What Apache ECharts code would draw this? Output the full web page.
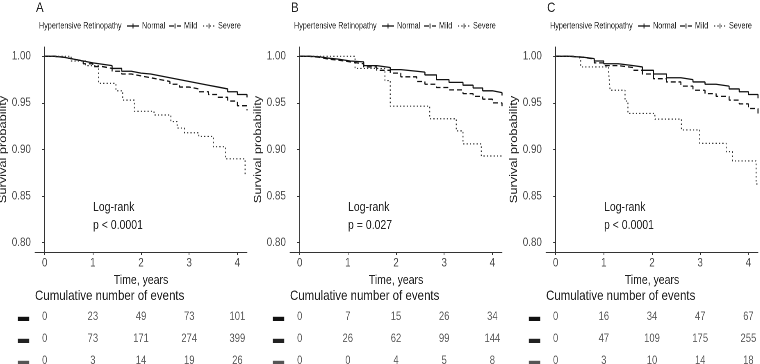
<!DOCTYPE html>
<html>
<head>
<meta charset="utf-8">
<script src="https://cdn.jsdelivr.net/npm/echarts@6/dist/echarts.min.js"></script>
<style>
    html, body { margin: 0; padding: 0; background: #fff; }
    #wrap { width: 760px; height: 364px; overflow: hidden; }
    /* the source figure is squeezed horizontally, so draw wide and squeeze */
    #main { width: 927px; height: 364px; transform: scaleX(0.82); transform-origin: 0 0; }
</style>
</head>
<body>
<div id="wrap"><div id="main"></div></div>
<script>
    // survival curves, [years, survival probability]
    var kmA_normal = [[0,1],[0.2,0.999],[0.4,0.997],[0.6,0.995],[0.8,0.993],[1.0,0.9915],[1.2,0.990],[1.4,0.987],[1.6,0.984],[1.8,0.982],[2.0,0.981],[2.2,0.979],[2.4,0.977],[2.6,0.975],[2.8,0.973],[3.0,0.971],[3.2,0.969],[3.4,0.967],[3.6,0.965],[3.8,0.962],[4.0,0.959],[4.2,0.956]];
    var kmA_mild = [[0,1],[0.2,0.999],[0.4,0.997],[0.6,0.995],[0.8,0.992],[1.0,0.989],[1.2,0.987],[1.4,0.984],[1.6,0.981],[1.8,0.979],[2.0,0.977],[2.2,0.975],[2.4,0.973],[2.6,0.970],[2.8,0.967],[3.0,0.965],[3.2,0.962],[3.4,0.959],[3.6,0.956],[3.8,0.952],[4.0,0.947],[4.2,0.942]];
    var kmA_severe = [[0,1],[0.55,0.995],[0.85,0.99],[1.12,0.971],[1.48,0.963],[1.62,0.953],[1.86,0.941],[2.27,0.937],[2.62,0.93],[2.75,0.923],[2.9,0.918],[3.2,0.914],[3.5,0.903],[3.75,0.89],[4.16,0.873],[4.2,0.873]];

    var kmB_normal = [[0,1],[0.2,0.9995],[0.4,0.998],[0.6,0.997],[0.8,0.995],[1.05,0.994],[1.33,0.990],[1.6,0.988],[1.88,0.9857],[2.1,0.984],[2.43,0.983],[2.6,0.980],[2.84,0.975],[3.1,0.972],[3.39,0.969],[3.6,0.966],[3.8,0.963],[4.0,0.961],[4.2,0.958]];
    var kmB_mild = [[0,1],[0.2,0.999],[0.4,0.997],[0.6,0.996],[0.8,0.994],[1.05,0.992],[1.33,0.9886],[1.6,0.985],[1.88,0.982],[2.1,0.978],[2.43,0.973],[2.6,0.970],[2.84,0.9665],[3.1,0.964],[3.39,0.960],[3.6,0.957],[3.8,0.954],[4.0,0.950],[4.2,0.9465]];
    var kmB_severe = [[0,1],[1.15,0.987],[1.77,0.974],[1.88,0.9465],[2.7,0.933],[3.25,0.92],[3.39,0.906],[3.77,0.893],[4.2,0.893]];

    var kmC_normal = [[0,1],[0.3,0.999],[0.58,0.9975],[0.8,0.995],[1.0,0.992],[1.3,0.990],[1.61,0.9886],[1.8,0.985],[2.03,0.981],[2.3,0.977],[2.6,0.975],[2.85,0.9725],[3.1,0.970],[3.33,0.968],[3.6,0.965],[3.81,0.962],[4.0,0.959],[4.2,0.955]];
    var kmC_mild = [[0,1],[0.3,0.999],[0.58,0.997],[0.8,0.993],[1.0,0.990],[1.3,0.988],[1.61,0.985],[1.8,0.981],[2.03,0.976],[2.3,0.9725],[2.6,0.968],[2.85,0.9636],[3.1,0.960],[3.33,0.957],[3.6,0.953],[3.81,0.949],[4.0,0.944],[4.2,0.9387]];
    var kmC_severe = [[0,1],[0.41,0.998],[0.52,0.9886],[1.1,0.983],[1.13,0.9636],[1.44,0.952],[1.5,0.9387],[2.06,0.9326],[2.61,0.921],[2.99,0.9066],[3.54,0.8977],[3.67,0.8877],[4.16,0.863],[4.2,0.863]];

    // cumulative number of events table
    var eventTimes = [0, 1, 2, 3, 4];
    var eventsA_normal = [0, 23, 49, 73, 101];
    var eventsA_mild = [0, 73, 171, 274, 399];
    var eventsA_severe = [0, 3, 14, 19, 26];
    var eventsB_normal = [0, 7, 15, 26, 34];
    var eventsB_mild = [0, 26, 62, 99, 144];
    var eventsB_severe = [0, 0, 4, 5, 8];
    var eventsC_normal = [0, 16, 34, 47, 67];
    var eventsC_mild = [0, 47, 109, 175, 255];
    var eventsC_severe = [0, 3, 10, 14, 18];

    var groups = ['Normal', 'Mild', 'Severe'];
    var xTicks = [0, 1, 2, 3, 4];
    var yTicks = [0.80, 0.85, 0.90, 0.95, 1.00];

    var S = 0.82; // horizontal squeeze, see css
    function sx(v) { return v / S; }

    var panels = [
        { tag: 'A', left: 35, p: 'p < 0.0001', km: [kmA_normal, kmA_mild, kmA_severe], ev: [eventsA_normal, eventsA_mild, eventsA_severe] },
        { tag: 'B', left: 290, p: 'p = 0.027', km: [kmB_normal, kmB_mild, kmB_severe], ev: [eventsB_normal, eventsB_mild, eventsB_severe] },
        { tag: 'C', left: 546, p: 'p < 0.0001', km: [kmC_normal, kmC_mild, kmC_severe], ev: [eventsC_normal, eventsC_mild, eventsC_severe] }
    ];

    var FONT = 'Liberation Sans, Arial, sans-serif';
    var plotW = 212, plotTop = 47, plotH = 205;
    var lineStyles = [
        { color: '#111', width: 1.3, type: 'solid' },
        { color: '#111', width: 1.3, type: [6, 3.5] },
        { color: '#333', width: 1.2, type: [1.5, 2.6] }
    ];
    var rowColors = ['#111', '#222', '#555'];

    var chart = echarts.init(document.getElementById('main'), null, { renderer: 'canvas', devicePixelRatio: 2 });
    var grids = [], xAxes = [], yAxes = [], series = [], titles = [], graphics = [];

    panels.forEach(function (pn, i) {
        // survival plot
        grids.push({ left: sx(pn.left), top: plotTop, width: sx(plotW), height: plotH, outerBoundsMode: 'none' });
        // risk table
        grids.push({ left: sx(pn.left), top: 306, width: sx(plotW), height: 66, outerBoundsMode: 'none' });

        xAxes.push({
            gridIndex: 2 * i, type: 'value', min: -0.2, max: 4.2,
            splitLine: { show: false },
            axisLine: { show: true, lineStyle: { color: '#333', width: 1 } },
            axisTick: { show: true, length: 3, lineStyle: { color: '#333' }, customValues: xTicks },
            axisLabel: { color: '#4d4d4d', fontSize: 12, fontFamily: FONT, margin: 5, customValues: xTicks },
            name: 'Time, years', nameLocation: 'middle', nameGap: 12,
            nameTextStyle: { color: '#222', fontSize: 12.8, fontFamily: FONT }
        });
        xAxes.push({
            gridIndex: 2 * i + 1, type: 'value', min: -0.2, max: 4.2, show: false
        });
        yAxes.push({
            gridIndex: 2 * i, type: 'value', min: 0.79, max: 1.01,
            splitLine: { show: false },
            axisLine: { show: true, lineStyle: { color: '#333', width: 1 } },
            axisTick: { show: true, length: 3, lineStyle: { color: '#333' }, customValues: yTicks },
            axisLabel: {
                color: '#4d4d4d', fontSize: 12, fontFamily: FONT, margin: 5, customValues: yTicks,
                formatter: function (v) { return v.toFixed(2); }
            },
            name: 'Survival probability', nameLocation: 'middle', nameGap: 25,
            nameTextStyle: { color: '#222', fontSize: 12.8, fontFamily: FONT }
        });
        yAxes.push({
            gridIndex: 2 * i + 1, type: 'category', data: groups, inverse: true,
            axisLine: { show: false }, axisTick: { show: false },
            axisLabel: {
                formatter: function () { return '▬'; },
                color: function (v, idx) { return rowColors[idx]; },
                fontSize: 14, margin: 7
            }
        });

        pn.km.forEach(function (curve, k) {
            series.push({
                name: groups[k], type: 'line', step: 'end',
                xAxisIndex: 2 * i, yAxisIndex: 2 * i,
                data: curve, symbol: 'none', silent: true,
                lineStyle: lineStyles[k]
            });
        });

        pn.ev.forEach(function (counts, k) {
            series.push({
                name: groups[k] + ' events', type: 'scatter',
                xAxisIndex: 2 * i + 1, yAxisIndex: 2 * i + 1,
                symbolSize: 0, silent: true,
                data: counts.map(function (c, j) { return [eventTimes[j], groups[k], c]; }),
                label: {
                    show: true, position: 'inside', color: '#333', fontSize: 11.5, fontFamily: FONT,
                    formatter: function (p) { return String(p.value[2]); }
                }
            });
        });

        titles.push({ text: pn.tag, left: sx(pn.left + 1), top: 1, padding: 0, textStyle: { fontSize: 14, fontWeight: 'normal', color: '#222', fontFamily: FONT } });
        titles.push({ text: 'Cumulative number of events', left: sx(pn.left), top: 289, padding: 0, textStyle: { fontSize: 14, fontWeight: 'normal', color: '#222', fontFamily: FONT } });

        // Log-rank annotation
        graphics.push({
            type: 'group', x: sx(pn.left + 58), y: 201, children: [
                { type: 'text', x: 0, y: 0, style: { text: 'Log-rank', font: '12.8px ' + FONT, fill: '#222' } },
                { type: 'text', x: 0, y: 18, style: { text: pn.p, font: '12.8px ' + FONT, fill: '#222' } }
            ]
        });

        // legend: title + three line keys with censor crosses
        var lg = [
            { type: 'text', x: 0, y: 0, style: { text: 'Hypertensive Retinopathy', font: '8.8px ' + FONT, fill: '#222', textVerticalAlign: 'middle' } }
        ];
        var keyX = [88, 130, 164], txtX = [103, 145, 179];
        groups.forEach(function (g, k) {
            var ls = lineStyles[k];
            var kx = sx(keyX[k]);
            lg.push({ type: 'line', shape: { x1: kx, y1: 0, x2: kx + sx(12), y2: 0 }, style: { stroke: ls.color, lineWidth: 1.3, lineDash: ls.type === 'solid' ? null : ls.type } });
            lg.push({ type: 'line', shape: { x1: kx + sx(6), y1: -2.5, x2: kx + sx(6), y2: 2.5 }, style: { stroke: ls.color, lineWidth: 1.1 } });
            lg.push({ type: 'text', x: sx(txtX[k]), y: 0, style: { text: g, font: '8.8px ' + FONT, fill: '#222', textVerticalAlign: 'middle' } });
        });
        graphics.push({ type: 'group', x: sx(pn.left + 4), y: 26, children: lg });
    });

    var option = {
        animation: false,
        backgroundColor: '#fff',
        title: titles,
        grid: grids,
        xAxis: xAxes,
        yAxis: yAxes,
        series: series,
        graphic: graphics
    };

    option && chart.setOption(option);
</script>
</body>
</html>
